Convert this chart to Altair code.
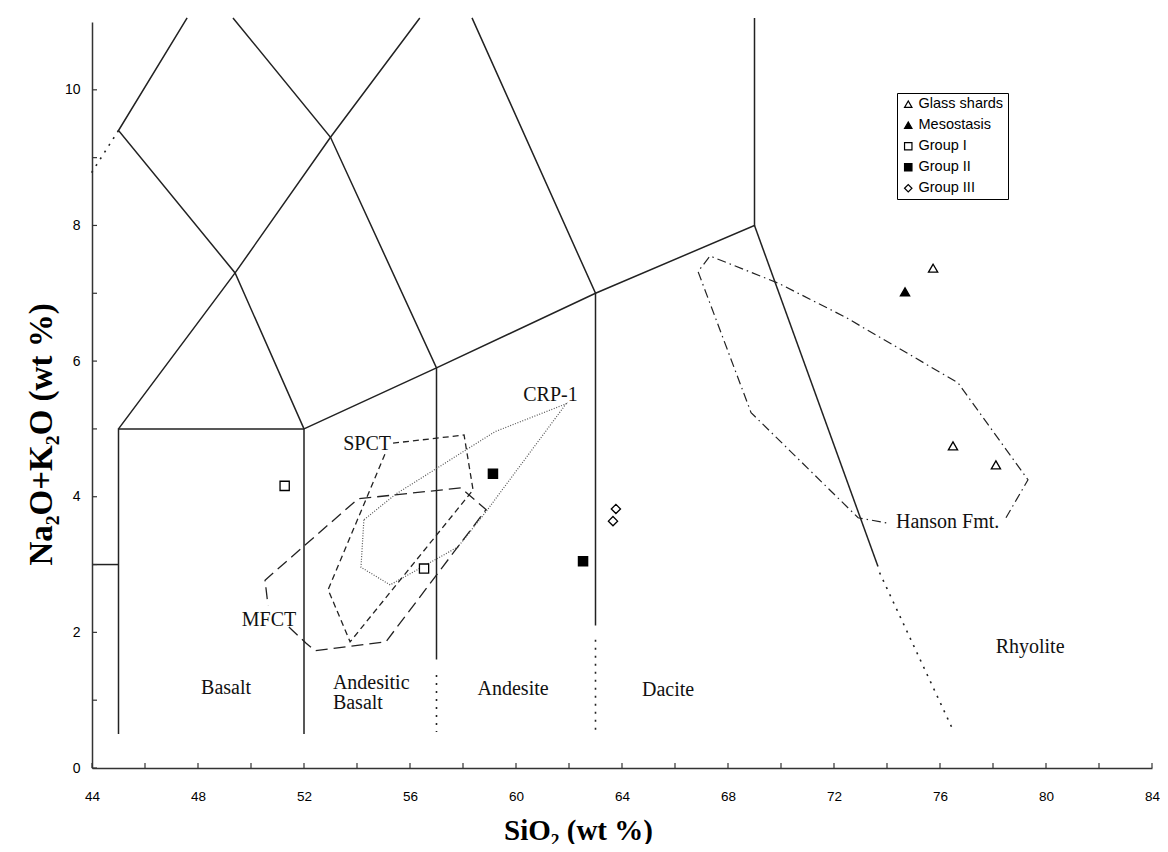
import altair as alt
import pandas as pd

# ---------------- data ----------------
groups = ["Glass shards", "Mesostasis", "Group I", "Group II", "Group III"]
shapes = ["triangle-up", "triangle-up", "square", "square", "diamond"]
fills = ["white", "black", "white", "black", "white"]
strokes = ["black", "black", "black", "black", "black"]

glass_x = [75.74, 76.49, 78.11]
glass_y = [7.37, 4.75, 4.47]
meso_x = [74.68]
meso_y = [7.02]
g1_x = [51.27, 56.53]
g1_y = [4.16, 2.94]
g2_x = [59.13, 62.53]
g2_y = [4.34, 3.05]
g3_x = [63.77, 63.66]
g3_y = [3.82, 3.64]

# TAS field boundaries (solid)
b_picro_x, b_picro_y = [44, 45], [3, 3]
b_basalt_x, b_basalt_y = [45, 45, 52, 52], [0.5, 5, 5, 0.5]
b_alk_x, b_alk_y = [52, 57, 63, 69, 69], [5, 5.9, 7, 8, 11.06]
b_s1_x, b_s1_y = [45, 49.4, 53, 56.37], [5, 7.3, 9.3, 11.06]
b_u1_x, b_u1_y = [52, 49.4, 45, 47.59], [5, 7.3, 9.4, 11.06]
b_o1_x, b_o1_y = [57, 57, 53, 49.32], [1.6, 5.9, 9.3, 11.06]
b_o2_x, b_o2_y = [63, 63, 58.34], [2.1, 7, 11.06]
b_rhy_x, b_rhy_y = [69, 73.66], [8, 2.97]
# dotted extensions
d_u1_x, d_u1_y = [45, 43.97], [9.4, 8.77]
d_o1_x, d_o1_y = [57, 57], [1.37, 0.53]
d_o2_x, d_o2_y = [63, 63], [1.89, 0.54]
d_rhy_x, d_rhy_y = [73.72, 76.49], [2.88, 0.56]

# outlined fields
crp_x = [54.26, 54.15, 55.25, 57.81, 58.87, 61.89, 59.21, 55.47, 54.26]
crp_y = [3.66, 2.96, 2.70, 3.26, 3.78, 5.37, 4.96, 4.04, 3.66]
spct_x = [55.36, 58.04, 58.38, 53.74, 52.91, 55.09]
spct_y = [4.79, 4.91, 4.10, 1.86, 2.63, 4.66]
mfct_x = [51.43, 52.08, 52.42, 55.09, 58.87, 57.92, 54.04, 50.53, 50.64]
mfct_y = [2.08, 1.84, 1.73, 1.86, 3.81, 4.13, 3.97, 2.77, 2.40]
hanson_x = [78.49, 79.32, 76.68, 72.42, 69.89, 67.32, 66.87, 68.87, 72.91, 74.04]
hanson_y = [3.69, 4.25, 5.68, 6.65, 7.15, 7.55, 7.32, 5.24, 3.69, 3.61]

# labels
c_labels = ["Basalt", "Andesite", "Dacite", "Rhyolite", "CRP-1", "SPCT", "MFCT"]
c_x = [49.06, 59.89, 65.74, 79.40, 61.30, 54.38, 50.68]
c_y = [1.18, 1.17, 1.15, 1.78, 5.50, 4.78, 2.18]
l_labels = ["Andesitic\nBasalt", "Hanson Fmt."]
l_x = [53.09, 74.34]
l_y = [1.25, 3.63]

x_labels = [44, 48, 52, 56, 60, 64, 68, 72, 76, 80, 84]
x_ticks = list(range(44, 85, 2))
y_labels = [0, 2, 4, 6, 8, 10]
y_ticks = list(range(0, 11))

# ---------------- tables ----------------
def paths(items):
    rows = []
    for pid, (xs, ys) in enumerate(items):
        for i, (a, b) in enumerate(zip(xs, ys)):
            rows.append({"path": pid, "i": i, "x": a, "y": b})
    return pd.DataFrame(rows)

solid_df = paths([(b_picro_x, b_picro_y), (b_basalt_x, b_basalt_y), (b_alk_x, b_alk_y),
                  (b_s1_x, b_s1_y), (b_u1_x, b_u1_y), (b_o1_x, b_o1_y),
                  (b_o2_x, b_o2_y), (b_rhy_x, b_rhy_y)])
dotted_df = paths([(d_u1_x, d_u1_y), (d_o1_x, d_o1_y), (d_o2_x, d_o2_y), (d_rhy_x, d_rhy_y)])
crp_df = paths([(crp_x, crp_y)])
spct_df = paths([(spct_x, spct_y)])
mfct_df = paths([(mfct_x, mfct_y)])
hanson_df = paths([(hanson_x, hanson_y)])

pts_rows = []
for g, xs, ys in [("Glass shards", glass_x, glass_y), ("Mesostasis", meso_x, meso_y),
                  ("Group I", g1_x, g1_y), ("Group II", g2_x, g2_y), ("Group III", g3_x, g3_y)]:
    for a, b in zip(xs, ys):
        pts_rows.append({"x": a, "y": b, "group": g})
pts_df = pd.DataFrame(pts_rows)

c_df = pd.DataFrame({"x": c_x, "y": c_y, "t": c_labels})
l_df = pd.DataFrame({"x": l_x, "y": l_y, "t": l_labels})
xt_df = pd.DataFrame({"x": x_ticks})
yt_df = pd.DataFrame({"y": y_ticks})

W, H = 1060, 746

xaxis = alt.Axis(values=x_labels, ticks=False, grid=False, domainColor="#333", domainWidth=1.5,
                 labelFont="Liberation Sans", labelFontSize=13.5, labelColor="black", labelPadding=21,
                 labelFlush=False,
                 titleFont="Liberation Serif", titleFontSize=29, titleFontWeight="bold", titleColor="black",
                 titleX=486, titleY=62, titleBaseline="middle", titleAlign="center")
yaxis = alt.Axis(values=y_labels, ticks=False, grid=False, domainColor="#333", domainWidth=1.5,
                 labelFont="Liberation Sans", labelFontSize=14, labelColor="black", labelPadding=12,
                 labelFlush=False,
                 titleFont="Liberation Serif", titleFontSize=33, titleFontWeight="bold", titleColor="black",
                 titleX=-51, titleY=412, titleAngle=270, titleBaseline="middle", titleAlign="center")

X = alt.X("x:Q", scale=alt.Scale(domain=[44, 84], nice=False, zero=False), axis=xaxis, title="SiO₂ (wt %)")
Y = alt.Y("y:Q", scale=alt.Scale(domain=[0, 11], nice=False, zero=False), axis=yaxis, title="Na₂O+K₂O (wt %)")


def line_layer(df, dash, color="#222", width=1.4):
    kw = dict(color=color, strokeWidth=width, clip=False)
    if dash:
        kw["strokeDash"] = dash
    return alt.Chart(df).mark_line(**kw).encode(x=X, y=Y, detail="path:N", order="i:Q")


solid = line_layer(solid_df, None, width=1.5)
dotted = line_layer(dotted_df, [2, 6], width=1.6)
crp = line_layer(crp_df, [1, 1.6], color="#555", width=1.2)
spct = line_layer(spct_df, [6, 4], color="#222", width=1.3)
mfct = line_layer(mfct_df, [12, 6], color="#222", width=1.3)
hanson = line_layer(hanson_df, [9, 4, 1.5, 4], color="#222", width=1.2)

legend = alt.Legend(orient="none", legendX=805, legendY=71, strokeColor="black", fillColor="white",
                    padding=4, rowPadding=6, symbolSize=55, symbolStrokeWidth=1.2,
                    labelFont="Liberation Sans", labelFontSize=14.5,
                    labelColor="black", labelOffset=3)

points = alt.Chart(pts_df).mark_point(filled=True, strokeWidth=1.3, size=85, opacity=1).encode(
    x=X, y=Y,
    shape=alt.Shape("group:N", scale=alt.Scale(domain=groups, range=shapes), legend=legend, title=None),
    fill=alt.Fill("group:N", scale=alt.Scale(domain=groups, range=fills), legend=legend, title=None),
    stroke=alt.Stroke("group:N", scale=alt.Scale(domain=groups, range=strokes), legend=legend, title=None),
)

ctext = alt.Chart(c_df).mark_text(font="Liberation Serif", fontSize=20, color="#111",
                                  align="center", baseline="middle").encode(x=X, y=Y, text="t:N")
ltext = alt.Chart(l_df).mark_text(font="Liberation Serif", fontSize=20, color="#111", lineBreak="\n",
                                  lineHeight=20, align="left", baseline="middle").encode(x=X, y=Y, text="t:N")

xticks = alt.Chart(xt_df).mark_rule(color="#333", strokeWidth=1.2).encode(
    x=X, y=alt.value(H), y2=alt.value(H - 5))
yticks = alt.Chart(yt_df).mark_rule(color="#333", strokeWidth=1.2).encode(
    y=Y, x=alt.value(0), x2=alt.value(5))

chart = alt.layer(solid, dotted, crp, spct, mfct, hanson, xticks, yticks, ctext, ltext, points).properties(
    width=W, height=H,
    autosize=alt.AutoSizeParams(type="none"),
    padding={"left": 84, "top": 14, "right": 8, "bottom": 76},
    background="white",
).configure_view(stroke=None)

chart.save("out.html", embed_options={"renderer": "svg", "actions": False})
